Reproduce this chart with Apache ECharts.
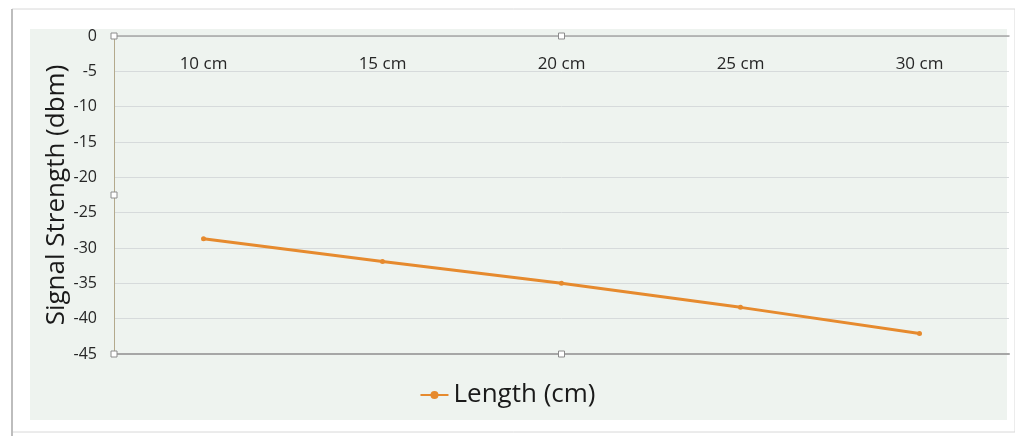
<!DOCTYPE html>
<html><head><meta charset="utf-8">
<script src="https://cdn.jsdelivr.net/npm/echarts@6/dist/echarts.min.js"></script>
<style>html,body{margin:0;padding:0;background:#fff}#c{width:1015px;height:436px}</style>
</head><body><div id="c"></div>
<script>
const categories = ['10 cm', '15 cm', '20 cm', '25 cm', '30 cm'];
const signalValues = [-28.7, -31.9, -35.0, -38.4, -42.1];
const seriesName = 'Length (cm)';
const yTitle = 'Signal Strength (dbm)';

const FONT = '"Open Sans", Lato, sans-serif';
const chart = echarts.init(document.getElementById('c'), null, {renderer: 'canvas'});
const frame = [
  {id: 'page', type: 'rect', shape: {x: 12, y: 9, width: 1003, height: 423}, style: {fill: '#fff', stroke: '#d8d8d8', lineWidth: 1}, z: -10},
  {id: 'leftEdge', type: 'line', shape: {x1: 12, y1: 9, x2: 12, y2: 436}, style: {stroke: '#bdbdbd', lineWidth: 2}, z: -9},
  {id: 'chartBg', type: 'rect', shape: {x: 30, y: 29, width: 977, height: 391}, style: {fill: '#eef3ef'}, z: -8}
];
chart.setOption({
  backgroundColor: '#ffffff',
  animation: false,
  graphic: frame,
  grid: {left: 114, right: 6, top: 36, bottom: 82, containLabel: false},
  legend: {
    data: [seriesName], bottom: 23, left: 'center',
    itemWidth: 28, itemHeight: 10,
    textStyle: {fontFamily: FONT, fontSize: 26, color: '#1a1a1a'},
    itemGap: 4
  },
  xAxis: [{
    type: 'category', data: categories, position: 'top', boundaryGap: true,
    axisLine: {onZero: false, lineStyle: {color: '#a6a6a6', width: 1.5}},
    axisTick: {show: false},
    axisLabel: {inside: true, margin: 20, color: '#262626', fontFamily: FONT, fontSize: 17}
  }, {
    type: 'category', data: categories, position: 'bottom', boundaryGap: true,
    axisLine: {onZero: false, lineStyle: {color: '#a6a6a6', width: 2}},
    axisTick: {show: false}, axisLabel: {show: false}
  }],
  yAxis: {
    type: 'value', min: -45, max: 0, interval: 5,
    name: yTitle, nameLocation: 'middle', nameGap: 44, nameRotate: 90, nameMoveOverlap: false,
    nameTextStyle: {fontFamily: FONT, fontSize: 26, color: '#1a1a1a'},
    axisLine: {show: true, lineStyle: {color: '#b3a98c', width: 1}},
    axisTick: {show: false},
    axisLabel: {margin: 17, color: '#262626', fontFamily: FONT, fontSize: 16},
    splitLine: {lineStyle: {color: '#d6dadb', width: 1}}
  },
  series: [{
    name: seriesName, type: 'line', data: signalValues,
    xAxisIndex: 0,
    symbol: 'circle', symbolSize: 5,
    lineStyle: {color: '#e68a2e', width: 3},
    itemStyle: {color: '#e68a2e'}
  }]
});
// Excel-style selection handles on the plot corners/midpoints
const g = chart.getModel().getComponent('grid').coordinateSystem.getRect();
const hs = [[g.x, g.y], [g.x, g.y + g.height / 2], [g.x, g.y + g.height], [g.x + g.width / 2, g.y], [g.x + g.width / 2, g.y + g.height]];
chart.setOption({graphic: frame.concat(hs.map((p, i) => ({id: 'h' + i, type: 'rect', shape: {x: p[0] - 3, y: p[1] - 3, width: 6, height: 6}, style: {fill: '#fff', stroke: '#8c8c8c', lineWidth: 1}, z: 100})))});
</script></body></html>
